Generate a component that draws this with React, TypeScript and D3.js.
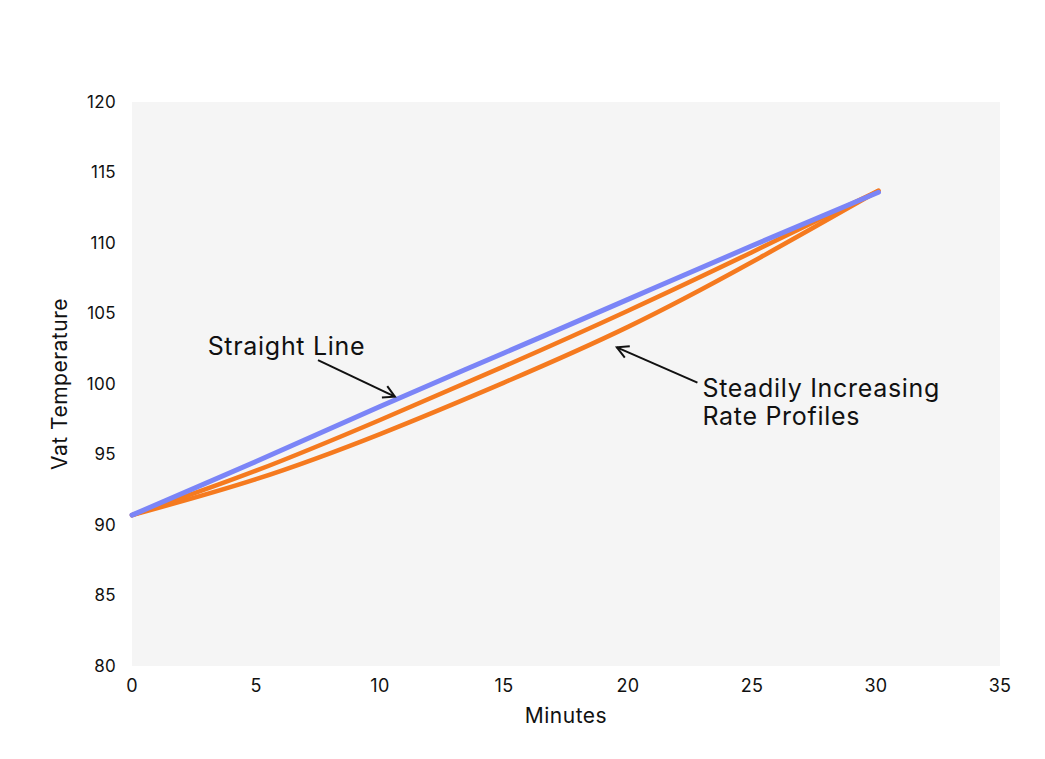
import * as d3 from "d3";

const width = 1045;
const height = 759;
const margin = { top: 102, right: 45, bottom: 93, left: 132 };

// minutes read at 5-minute steps
const minutes = [0, 5, 10, 15, 20, 25, 30.1];
const straightLine = [90.7, 94.5, 98.4, 102.2, 106.0, 109.8, 113.6];
const profileFast = [90.7, 93.85, 97.45, 101.25, 105.2, 109.35, 113.7];
const profileSlow = [90.7, 93.25, 96.45, 100.1, 104.05, 108.65, 113.7];

const xTicks = [0, 5, 10, 15, 20, 25, 30, 35];
const yTicks = [80, 85, 90, 95, 100, 105, 110, 115, 120];

const font = "Inter, 'Noto Sans', sans-serif";

const App = () => {
  const x = d3.scaleLinear().domain([0, 35]).range([margin.left, width - margin.right]);
  const y = d3.scaleLinear().domain([80, 120]).range([height - margin.bottom, margin.top]);

  const line = d3
    .line<number>()
    .x((_, i) => x(minutes[i]))
    .y((d) => y(d))
    .curve(d3.curveNatural);

  const arrowHead = (x1: number, y1: number, x2: number, y2: number) => {
    const a = Math.atan2(y2 - y1, x2 - x1);
    const len = 13;
    const spread = 0.5;
    const p1 = [x2 - len * Math.cos(a - spread), y2 - len * Math.sin(a - spread)];
    const p2 = [x2 - len * Math.cos(a + spread), y2 - len * Math.sin(a + spread)];
    return `M${p1[0]},${p1[1]}L${x2},${y2}L${p2[0]},${p2[1]}`;
  };

  const a1 = [x(7.5), y(101.7), x(10.6), y(99.1)];
  const a2 = [x(22.8), y(100.1), x(19.55), y(102.6)];

  return (
    <svg
      width={width}
      height={height}
      style={{ position: "absolute", left: 0, top: 0, background: "#fff" }}
      fontFamily={font}
    >
      <rect
        x={margin.left}
        y={margin.top}
        width={width - margin.left - margin.right}
        height={height - margin.top - margin.bottom}
        fill="#f5f5f5"
      />

      {yTicks.map((t) => (
        <text key={t} x={116} y={y(t)} dy="0.35em" textAnchor="end" fontSize={17} letterSpacing={0.3} fill="#111">
          {t}
        </text>
      ))}
      {xTicks.map((t) => (
        <text key={t} x={x(t)} y={686} dy="0.35em" textAnchor="middle" fontSize={18} letterSpacing={0.3} fill="#111">
          {t}
        </text>
      ))}

      <text
        x={(margin.left + width - margin.right) / 2}
        y={716}
        dy="0.35em"
        textAnchor="middle"
        fontSize={21}
        letterSpacing={0.5}
        fill="#111"
      >
        Minutes
      </text>
      <text
        transform={`translate(60, ${(margin.top + height - margin.bottom) / 2}) rotate(-90)`}
        textAnchor="middle"
        dy="0.35em"
        fontSize={21}
        letterSpacing={0.5}
        fill="#111"
      >
        Vat Temperature
      </text>

      <path d={line(profileSlow) ?? ""} fill="none" stroke="#f57a1f" strokeWidth={4.5} strokeLinecap="round" />
      <path d={line(profileFast) ?? ""} fill="none" stroke="#f57a1f" strokeWidth={4.5} strokeLinecap="round" />
      <path d={line(straightLine) ?? ""} fill="none" stroke="#7b85f7" strokeWidth={5} strokeLinecap="round" />

      <text x={x(3.05)} y={y(102.05)} fontSize={25} letterSpacing={0.7} fill="#111">
        Straight Line
      </text>
      <line x1={a1[0]} y1={a1[1]} x2={a1[2]} y2={a1[3]} stroke="#111" strokeWidth={2} />
      <path d={arrowHead(a1[0], a1[1], a1[2], a1[3])} fill="none" stroke="#111" strokeWidth={2} />

      <text x={x(23.0)} y={y(99.1)} fontSize={25} letterSpacing={0.7} fill="#111">
        Steadily Increasing
      </text>
      <text x={x(23.0)} y={y(97.1)} fontSize={25} letterSpacing={0.7} fill="#111">
        Rate Profiles
      </text>
      <line x1={a2[0]} y1={a2[1]} x2={a2[2]} y2={a2[3]} stroke="#111" strokeWidth={2} />
      <path d={arrowHead(a2[0], a2[1], a2[2], a2[3])} fill="none" stroke="#111" strokeWidth={2} />
    </svg>
  );
};

export default App;
